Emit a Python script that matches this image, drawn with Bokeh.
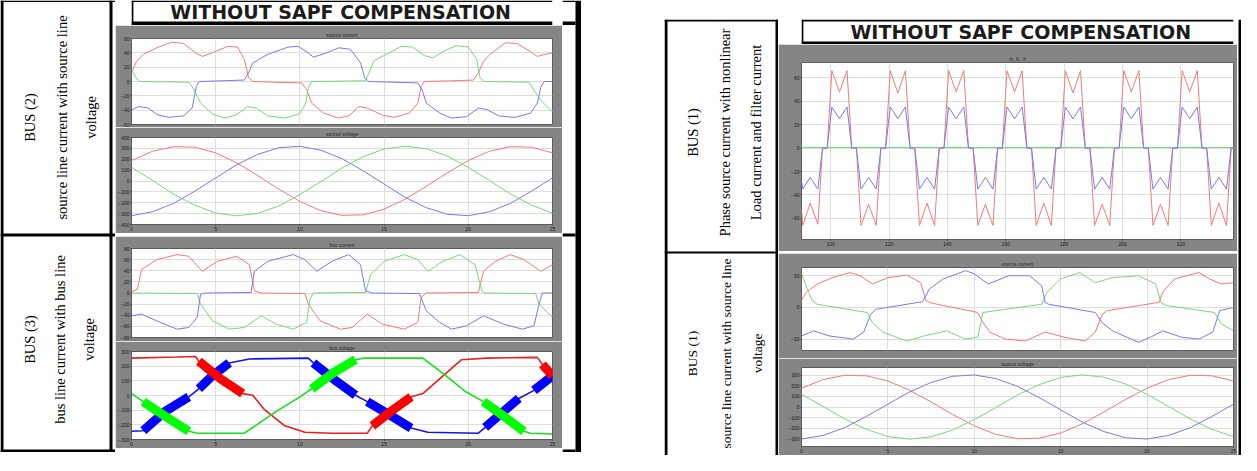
from math import pi
from bokeh.plotting import figure
from bokeh.layouts import row, column
from bokeh.models import Range1d, FixedTicker, Spacer
from bokeh.core.properties import value
from bokeh.embed import file_html
from bokeh.resources import INLINE

# ---------------- texts ----------------
TITLE = "WITHOUT SAPF COMPENSATION"
labels_left = [["BUS (2)", "source line current with source line", "voltage"],
               ["BUS (3)", "bus line current with bus line", "voltage"]]
labels_right = [["BUS (1)", "Phase source current with nonlinear", "Load current and filter current"],
                ["BUS (1)", "source line current with source line", "voltage"]]
subtitles = ["source current", "source voltage", "bus current", "bus voltage",
             "Is, IL, If", "source current", "source voltage"]

# ---------------- data: time in ms ----------------
ms_ticks_25 = [0, 5, 10, 15, 20, 25]

# Left, BUS (2) source line current (A)
L1_red_t = [0.0, 0.3, 0.7, 1.5, 2.4, 3.1, 3.8, 4.2, 4.8, 5.7, 6.3, 6.7, 6.95, 7.2, 8.5, 10.1, 10.4, 10.7, 11.4, 12.3,
            12.9, 13.5, 14.0, 14.9, 15.6, 16.5, 17.0, 17.2, 17.4, 19.0, 20.3, 20.6, 20.9, 21.3, 22.2, 22.9, 23.6, 24.1, 24.6, 25.0]
L1_red_v = [12, 28, 38, 47, 55, 53, 40, 35, 40, 49, 48, 31, 6, 0, -1, -2, -11, -30, -44, -51,
            -48, -35, -37, -47, -50, -44, -30, -7, 0, 1, 2, 12, 28, 38, 54, 53, 43, 35, 38, 40]
L1_blue_t = [0.0, 0.4, 1.0, 1.5, 2.2, 3.1, 3.6, 3.85, 4.0, 6.7, 6.95, 7.2, 8.1, 9.3, 9.9, 10.5, 10.8, 11.6, 12.3, 13.0,
             13.6, 13.85, 14.1, 17.0, 17.25, 17.5, 18.3, 19.0, 19.9, 20.6, 21.1, 21.8, 22.8, 23.7, 24.1, 24.3, 24.5, 25.0]
L1_blue_v = [-40, -35, -37, -46, -50, -48, -37, -7, 0, 2, 12, 26, 38, 48, 49, 40, 34, 40, 47, 45,
             26, 5, 0, -2, -11, -30, -44, -51, -49, -37, -39, -48, -50, -44, -30, -8, 0, 0]
L1_green_t = [0.0, 0.3, 0.5, 3.4, 3.7, 4.1, 4.8, 5.5, 6.2, 6.9, 7.4, 8.1, 9.1, 10.0, 10.35, 10.5, 10.7, 13.9, 14.1, 14.4,
              15.3, 16.0, 16.7, 17.4, 17.9, 18.6, 19.3, 20.0, 20.5, 20.7, 20.95, 23.6, 23.9, 24.3, 24.8, 25.0]
L1_green_v = [17, 4, 0, -1, -11, -30, -45, -51, -47, -35, -37, -48, -51, -45, -30, -9, 0, 1, 12, 29,
              40, 49, 48, 36, 33, 43, 50, 48, 31, 5, 0, -1, -12, -26, -38, -42]

# Left, BUS (2) source line voltage (V)
V_t = [0.0, 1.25, 2.5, 3.75, 5.0, 6.25, 7.5, 8.75, 10.0, 11.25, 12.5, 13.75, 15.0, 16.25, 17.5, 18.75, 20.0, 21.25, 22.5, 23.75, 25.0]
L2_red_v = [188, 273, 316, 311, 259, 167, 50, -75, -188, -273, -316, -311, -259, -167, -50, 75, 188, 273, 316, 311, 259]
L2_blue_v = [-319, -283, -206, -94, 28, 150, 245, 306, 319, 283, 206, 94, -28, -150, -245, -306, -319, -283, -206, -94, 28]
L2_green_v = [127, 5, -120, -222, -295, -320, -297, -230, -125, -5, 120, 222, 295, 320, 297, 230, 125, 5, -120, -222, -295]

# Left, BUS (3) bus line current (A)
L3_red_t = [0.0, 0.35, 0.6, 1.5, 2.7, 3.4, 4.2, 5.1, 6.25, 7.0, 7.3, 7.7, 10.3, 10.5, 11.2, 12.4, 13.1, 14.0, 14.9, 16.2,
            17.0, 17.2, 17.5, 20.6, 20.9, 21.6, 22.5, 23.3, 24.3, 25.0]
L3_red_v = [2, 7, 42, 60, 69, 66, 39, 57, 66, 51, 4, 0, -1, -20, -50, -65, -62, -38, -56, -65,
            -53, -8, 0, 1, 39, 57, 69, 60, 39, 51]
L3_blue_t = [0.0, 0.6, 1.5, 2.7, 3.4, 3.9, 4.1, 4.4, 7.1, 7.3, 8.1, 9.6, 10.3, 11.0, 11.9, 12.9, 13.6, 13.9, 14.3, 17.1,
             17.5, 18.3, 19.0, 19.9, 20.9, 22.1, 23.2, 23.9, 24.2, 24.4, 25.0]
L3_blue_v = [-41, -38, -50, -65, -62, -44, -2, 0, 1, 39, 57, 69, 60, 39, 57, 69, 51, 4, 0, -1,
             -32, -53, -65, -59, -41, -56, -65, -59, -20, 0, 0]
L3_green_t = [0.0, 3.9, 4.1, 4.8, 5.8, 6.7, 7.7, 8.6, 9.6, 10.4, 10.6, 10.8, 13.9, 14.2, 15.0, 16.2, 17.0, 17.6, 18.5, 19.5,
              20.4, 20.8, 21.0, 24.0, 24.2, 25.0]
L3_green_v = [0, -1, -20, -50, -65, -62, -41, -56, -65, -53, -11, 0, 1, 33, 57, 69, 60, 39, 57, 69,
              51, 4, 0, -1, -20, -44]

# Left, BUS (3) bus line voltage (V)
L4_red_t = [0.0, 2.7, 3.8, 4.0, 5.3, 6.6, 7.2, 7.9, 9.1, 10.3, 11.9, 14.0, 14.3, 15.4, 16.6, 17.3, 18.5, 19.6, 21.1, 24.1, 24.4, 25.0]
L4_red_v = [255, 262, 266, 233, 112, 13, 2, -97, -207, -251, -257, -257, -207, -108, -9, 13, 134, 244, 255, 260, 211, 134]
L4_blue_t = [0.0, 0.7, 2.0, 3.4, 4.0, 4.8, 5.8, 7.0, 10.5, 10.8, 12.0, 13.3, 14.0, 15.3, 16.6, 17.6, 20.6, 21.0, 22.1, 23.0, 23.9, 25.0]
L4_blue_v = [-244, -240, -108, -9, 46, 134, 222, 249, 255, 222, 112, 2, -42, -130, -222, -251, -257, -218, -108, -20, 35, 134]
L4_green_t = [0.0, 0.7, 2.0, 3.4, 3.9, 6.7, 7.2, 8.6, 10.0, 10.7, 12.0, 13.3, 13.8, 17.3, 17.8, 18.8, 19.8, 20.9, 22.1, 23.3, 23.7, 25.0]
L4_green_v = [13, -42, -141, -244, -257, -257, -218, -108, -9, 46, 156, 244, 255, 255, 211, 123, 29, -42, -141, -244, -257, -262]
# switching bands (thick)
L4_red_band_t = [[4.0, 5.3, 6.6], [14.3, 15.4, 16.6], [24.4, 25.0]]
L4_red_band_v = [[233, 112, 13], [-207, -108, -9], [211, 134]]
L4_blue_band_t = [[0.7, 2.0, 3.4], [4.0, 4.8, 5.8], [10.8, 12.0, 13.3], [14.0, 15.3, 16.6], [21.0, 22.1, 23.0], [23.9, 25.0]]
L4_blue_band_v = [[-240, -108, -9], [46, 134, 222], [222, 112, 2], [-42, -130, -222], [-218, -108, -20], [35, 134]]
L4_green_band_t = [[0.7, 2.0, 3.4], [10.7, 12.0, 13.3], [20.9, 22.1, 23.3]]
L4_green_band_v = [[-42, -141, -244], [46, 156, 244], [-42, -141, -244]]

# Right, BUS (1) load / source / filter current (A), time 90..238 ms
R1_t = [90.0, 90.4, 93.0, 95.6, 97.2,
        98.8, 100.4, 103.0, 105.6, 107.2, 108.8, 110.4, 113.0, 115.6, 117.2,
        118.8, 120.4, 123.0, 125.6, 127.2, 128.8, 130.4, 133.0, 135.6, 137.2,
        138.8, 140.4, 143.0, 145.6, 147.2, 148.8, 150.4, 153.0, 155.6, 157.2,
        158.8, 160.4, 163.0, 165.6, 167.2, 168.8, 170.4, 173.0, 175.6, 177.2,
        178.8, 180.4, 183.0, 185.6, 187.2, 188.8, 190.4, 193.0, 195.6, 197.2,
        198.8, 200.4, 203.0, 205.6, 207.2, 208.8, 210.4, 213.0, 215.6, 217.2,
        218.8, 220.4, 223.0, 225.6, 227.2, 228.8, 230.4, 233.0, 235.6, 237.2, 238.0]
R1_red_v = [-52, -66, -47, -65, 0,
            0, 66, 48, 66, 0, 0, -66, -48, -66, 0,
            0, 66, 47, 66, 0, 0, -66, -47, -66, 0,
            0, 66, 48, 66, 0, 0, -66, -48, -66, 0,
            0, 66, 48, 66, 0, 0, -66, -47, -66, 0,
            0, 66, 47, 66, 0, 0, -66, -48, -66, 0,
            0, 66, 48, 66, 0, 0, -66, -48, -66, 0,
            0, 66, 48, 66, 0, 0, -66, -47, -66, 0, 0]
R1_blue_v = [-28, -35, -25, -35, 0,
             0, 35, 25, 35, 0, 0, -35, -25, -35, 0,
             0, 35, 25, 35, 0, 0, -35, -25, -35, 0,
             0, 35, 25, 35, 0, 0, -35, -25, -35, 0,
             0, 35, 25, 35, 0, 0, -35, -25, -35, 0,
             0, 35, 25, 35, 0, 0, -35, -25, -35, 0,
             0, 35, 25, 35, 0, 0, -35, -25, -35, 0,
             0, 35, 25, 35, 0, 0, -35, -25, -35, 0, 0]
R1_green_t = [90.0, 238.0]
R1_green_v = [0.5, 0.5]

# Right, BUS (1) source line current (A)
R2_red_t = [0.0, 0.3, 0.9, 1.8, 2.8, 3.4, 4.1, 5.0, 6.1, 6.9, 7.2, 7.5, 10.2, 10.5, 10.9, 11.8, 12.95, 14.1, 15.2, 16.4,
            17.0, 17.4, 17.7, 20.7, 20.9, 21.6, 23.0, 23.6, 24.3, 25.0]
R2_red_v = [11, 24, 37, 47, 55, 50, 37, 47, 51, 39, 11, 7, -8, -24, -39, -50, -53, -39, -47, -53,
            -39, -11, -5, 8, 24, 45, 55, 45, 37, 39]
R2_blue_t = [0.0, 0.7, 1.6, 3.0, 3.6, 4.0, 4.3, 7.0, 7.4, 8.2, 9.5, 10.0, 10.8, 12.0, 13.2, 13.9, 14.1, 14.3, 17.0, 17.4,
             18.0, 19.5, 20.2, 20.9, 22.0, 23.0, 23.8, 24.2, 25.0]
R2_blue_v = [-45, -37, -45, -50, -39, -11, -3, 9, 29, 45, 58, 53, 37, 50, 50, 34, 8, 5, -8, -24,
             -37, -55, -47, -37, -47, -50, -39, -5, 0]
R2_green_t = [0.0, 0.2, 0.6, 0.9, 3.8, 4.1, 4.7, 6.1, 7.1, 8.4, 9.5, 10.2, 10.5, 13.9, 14.2, 15.0, 16.1, 17.0, 18.0, 19.5,
              20.5, 20.8, 21.1, 23.9, 24.3, 25.0]
R2_green_v = [53, 39, 11, 5, -8, -24, -39, -53, -45, -37, -50, -47, -8, 5, 24, 45, 55, 39, 47, 50,
              37, 8, 3, -8, -26, -37]

# Right, BUS (1) source line voltage (V)
R3_red_v = [179, 260, 301, 296, 247, 159, 48, -71, -179, -260, -301, -296, -247, -159, -48, 71, 179, 260, 301, 296, 247]
R3_blue_v = [-304, -270, -196, -90, 27, 143, 233, 292, 304, 270, 196, 90, -27, -143, -233, -292, -304, -270, -196, -90, 27]
R3_green_v = [121, 5, -114, -212, -281, -305, -283, -219, -119, -5, 114, 212, 281, 305, 283, 219, 119, 5, -114, -212, -281]

# ---------------- styling ----------------
GREY = "#858585"
RED, GREEN, BLUE = "#f07a7a", "#7ad67a", "#7a7ae8"
SERIF = value("Liberation Serif")


def deco(w, h):
    p = figure(width=w, height=h, x_range=Range1d(0, w), y_range=Range1d(h, 0),
               output_backend="svg", toolbar_location=None, min_border=0,
               x_axis_type=None, y_axis_type=None, outline_line_color=None,
               background_fill_color="white", border_fill_color="white")
    return p


def wave(w, h, bl, br, bt, bb, xr, yr, xt, yt, sub, xlab):
    p = figure(width=w, height=h, x_range=Range1d(*xr), y_range=Range1d(*yr),
               output_backend="svg", toolbar_location=None,
               min_border_left=bl, min_border_right=br, min_border_top=bt, min_border_bottom=bb,
               border_fill_color=GREY, background_fill_color="white", outline_line_color="#5c5c5c")
    p.title.text = sub
    p.title.text_font_size = "5px"
    p.title.text_font_style = "normal"
    p.title.text_color = "#2a2a2a"
    p.title.align = "center"
    p.title.standoff = 1
    xtk, ytk = FixedTicker(ticks=xt), FixedTicker(ticks=yt)
    p.xaxis.ticker = xtk
    p.yaxis.ticker = ytk
    p.xgrid.ticker = xtk
    p.ygrid.ticker = ytk
    for ax in p.axis:
        ax.major_label_text_font_size = "5px"
        ax.major_label_text_color = "#1e1e1e"
        ax.major_label_standoff = 1
        ax.major_tick_out = 1
        ax.major_tick_in = 0
        ax.minor_tick_out = 0
        ax.minor_tick_in = 0
        ax.axis_line_color = None
        ax.major_tick_line_color = "#333333"
    p.xaxis.visible = xlab
    p.grid.grid_line_color = "#dedede"
    return p


def labels(p, xs, yc, texts, size="14.5px"):
    p.text(x=xs, y=[yc] * len(xs), text=texts, angle=pi / 2, text_align="center",
           text_baseline="middle", text_font=SERIF, text_font_size=size, text_color="black")


# ---------------- left panel ----------------
LL = deco(115, 452)
LL.quad(left=[0, 0, 0, 109, 0], right=[3, 115, 115, 112, 115], top=[0, 0, 233, 0, 449],
        bottom=[452, 1.5, 236, 452, 452], color="black", line_width=0)
labels(LL, [29, 61, 90], 117, labels_left[0])
labels(LL, [29, 59, 88], 339, labels_left[1])

tL = deco(447, 25)
tL.quad(left=[0, 0, 0], right=[447, 447, 2], top=[0, 21, 0], bottom=[1.5, 24.5, 25], color="black", line_width=0)
tL.text(x=[222], y=[11], text=[TITLE], text_align="center", text_baseline="middle",
        text_font=value("DejaVu Sans"), text_font_style="bold", text_font_size="19px", text_color="#1c1c1c")

L1 = wave(447, 102, 14, 10, 13, 3, (0, 25), (-60, 60), ms_ticks_25, [-60, -40, -20, 0, 20, 40, 60], subtitles[0], False)
L1.line(L1_red_t, L1_red_v, color=RED, line_width=1)
L1.line(L1_green_t, L1_green_v, color=GREEN, line_width=1)
L1.line(L1_blue_t, L1_blue_v, color=BLUE, line_width=1)

L2 = wave(447, 106, 14, 10, 10, 8, (0, 25), (-400, 400), ms_ticks_25, list(range(-400, 401, 100)), subtitles[1], True)
L2.line(V_t, L2_red_v, color=RED, line_width=1)
L2.line(V_t, L2_green_v, color=GREEN, line_width=1)
L2.line(V_t, L2_blue_v, color=BLUE, line_width=1)

divL = deco(447, 3)
divL.quad(left=[0], right=[447], top=[0], bottom=[3], color="black", line_width=0)

L3 = wave(447, 105, 14, 10, 12, 4, (0, 25), (-80, 80), ms_ticks_25, list(range(-80, 81, 20)), subtitles[2], False)
L3.line(L3_red_t, L3_red_v, color=RED, line_width=1)
L3.line(L3_green_t, L3_green_v, color=GREEN, line_width=1)
L3.line(L3_blue_t, L3_blue_v, color=BLUE, line_width=1)

L4 = wave(447, 107, 14, 10, 10, 6, (0, 25), (-300, 300), ms_ticks_25, list(range(-300, 301, 100)), subtitles[3], True)
L4.line(L4_red_t, L4_red_v, color="#e8201e", line_width=1.6)
L4.line(L4_green_t, L4_green_v, color="#18e018", line_width=1.6)
L4.line(L4_blue_t, L4_blue_v, color="#1414e6", line_width=1.6)
L4.multi_line(L4_blue_band_t, L4_blue_band_v, color="#0000ff", line_width=9, line_cap="butt")
L4.multi_line(L4_red_band_t, L4_red_band_v, color="#ff0000", line_width=9, line_cap="butt")
L4.multi_line(L4_green_band_t, L4_green_band_v, color="#00ff00", line_width=9, line_cap="butt")

botL = deco(447, 4)
botL.quad(left=[0], right=[447], top=[1], bottom=[4], color="black", line_width=0)

LB = deco(19, 452)
LB.quad(left=[13, 0, 0, 0, 0], right=[19, 13, 13, 13, 13], top=[0, 0, 21, 233, 449],
        bottom=[452, 1.5, 24.5, 236, 452], color="black", line_width=0)

left_panel = row(LL, column(tL, L1, L2, divL, L3, L4, botL), LB)

# ---------------- right panel ----------------
RL = deco(114, 436)
RL.quad(left=[0, 0, 111, 0], right=[3, 114, 114, 114], top=[0, 0, 0, 232],
        bottom=[436, 2, 436, 234], color="black", line_width=0)
labels(RL, [28, 60, 91], 113, labels_right[0])
labels(RL, [28, 62, 93], 334, labels_right[1], size="13.5px")

tR = deco(459, 25)
tR.quad(left=[0, 0, 0], right=[459, 459, 2], top=[0, 22, 0], bottom=[2, 25, 25], color="black", line_width=0)
tR.text(x=[233], y=[12], text=[TITLE], text_align="center", text_baseline="middle",
        text_font=value("DejaVu Sans"), text_font_style="bold", text_font_size="19px", text_color="#1c1c1c")

R1 = wave(459, 207, 23, 4, 18, 12, (90, 238), (-78, 73), list(range(100, 221, 20)),
          [-60, -40, -20, 0, 20, 40, 60], subtitles[4], True)
R1.line(R1_t, R1_red_v, color=RED, line_width=1)
R1.line(R1_green_t, R1_green_v, color=GREEN, line_width=1)
R1.line(R1_t, R1_blue_v, color=BLUE, line_width=1)

divR = deco(459, 2)
divR.quad(left=[0], right=[459], top=[0], bottom=[2], color="black", line_width=0)

R2 = wave(459, 105, 23, 4, 14, 8, (0, 25), (-68, 63), ms_ticks_25, [-50, 0, 50], subtitles[5], False)
R2.line(R2_red_t, R2_red_v, color=RED, line_width=1)
R2.line(R2_green_t, R2_green_v, color=GREEN, line_width=1)
R2.line(R2_blue_t, R2_blue_v, color=BLUE, line_width=1)

R3 = wave(459, 97, 23, 4, 7, 9, (0, 25), (-375, 375), ms_ticks_25, list(range(-300, 301, 100)), subtitles[6], True)
R3.line(V_t, R3_red_v, color=RED, line_width=1)
R3.line(V_t, R3_green_v, color=GREEN, line_width=1)
R3.line(V_t, R3_blue_v, color=BLUE, line_width=1)

RB = deco(4, 436)
RB.quad(left=[1], right=[4], top=[0], bottom=[436], color="black", line_width=0)

right_panel = column(Spacer(width=577, height=19), row(RL, column(tR, R1, divR, R2, R3), RB))

layout = row(left_panel, Spacer(width=83, height=10), right_panel)

open("out.html", "w").write(file_html(layout, INLINE))
